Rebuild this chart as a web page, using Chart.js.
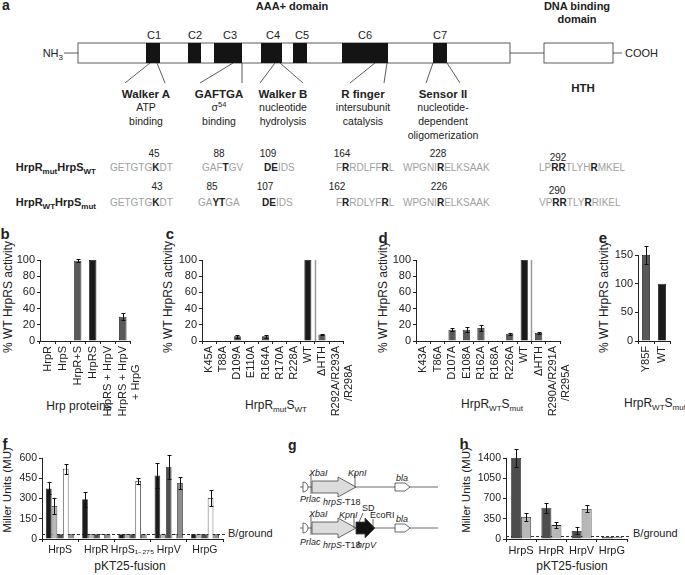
<!DOCTYPE html>
<html>
<head>
<meta charset="utf-8">
<script src="https://cdn.jsdelivr.net/npm/chart.js@4.4.0/dist/chart.umd.min.js"></script>
<style>
body { margin: 0; width: 685px; height: 575px; background: #fff; position: relative; overflow: hidden;
       font-family: "Liberation Sans", Arial, Helvetica, sans-serif; color: #222; }
.t { position: absolute; white-space: nowrap; font-size: 12px; line-height: 1; transform: translate(-50%, -50%); }
.r { transform: translate(-50%, -50%) rotate(-90deg); }
.lft { transform: translate(0, -50%); font-size: 11px; }
.L { position: absolute; font-weight: bold; font-size: 15px; line-height: 1; transform: translate(-50%, -50%); }
sub { font-size: 8px; vertical-align: -3px; line-height: 0; }
svg { position: absolute; left: 0; top: 0; }
</style>
</head>
<body>

<svg width="685" height="575" font-family="Liberation Sans, Arial, Helvetica, sans-serif">
  <!-- panel a -->
  <g fill="#222">
    <text x="2" y="10" font-size="14" font-weight="bold">a</text>
    <text x="292" y="10" font-size="11" font-weight="bold" text-anchor="middle">AAA+ domain</text>
    <text x="577" y="10" font-size="11" font-weight="bold" text-anchor="middle">DNA binding</text>
    <text x="577" y="23" font-size="11" font-weight="bold" text-anchor="middle">domain</text>
    <g font-size="11" text-anchor="middle">
      <text x="154" y="39">C1</text><text x="195" y="39">C2</text><text x="230" y="39">C3</text>
      <text x="273" y="39">C4</text><text x="302" y="39">C5</text><text x="365" y="39">C6</text>
      <text x="440" y="39">C7</text>
    </g>
    <text x="63" y="57" font-size="11" text-anchor="end">NH<tspan font-size="8" dy="3">3</tspan></text>
    <text x="625" y="57" font-size="11">COOH</text>
  </g>
  <g stroke="#333" stroke-width="0.8" fill="none">
    <line x1="64" y1="53" x2="78" y2="53"/>
    <rect x="78" y="43" width="432" height="20" fill="#fff"/>
    <line x1="510" y1="53" x2="544" y2="53"/>
    <rect x="544" y="43" width="69" height="20" fill="#fff"/>
    <line x1="613" y1="53" x2="622" y2="53"/>
    <line x1="150" y1="63" x2="125" y2="83"/><line x1="157" y1="63" x2="165" y2="83"/>
    <line x1="233" y1="63" x2="200" y2="83"/><line x1="242" y1="63" x2="242" y2="83"/>
    <line x1="275" y1="63" x2="260" y2="83"/><line x1="280" y1="63" x2="303" y2="83"/>
    <line x1="375" y1="63" x2="350" y2="83"/><line x1="387" y1="63" x2="384" y2="83"/>
    <line x1="433" y1="63" x2="426" y2="83"/><line x1="447" y1="63" x2="460" y2="83"/>
  </g>
  <g fill="#141414">
    <rect x="146" y="43" width="14" height="20"/><rect x="188" y="43" width="13" height="20"/>
    <rect x="214" y="43" width="28" height="20"/><rect x="261" y="43" width="21" height="20"/>
    <rect x="293" y="43" width="14" height="20"/><rect x="342" y="43" width="46" height="20"/>
    <rect x="433" y="43" width="14" height="20"/>
  </g>
  <g fill="#222" font-size="10.5" text-anchor="middle">
    <text x="146" y="98" font-weight="bold" font-size="11.5">Walker A</text>
    <text x="146" y="111">ATP</text><text x="146" y="125">binding</text>
    <text x="219" y="98" font-weight="bold" font-size="11.5">GAFTGA</text>
    <text x="219" y="111">σ<tspan font-size="7.5" dy="-4">54</tspan></text><text x="219" y="125">binding</text>
    <text x="283" y="98" font-weight="bold" font-size="11.5">Walker B</text>
    <text x="283" y="111">nucleotide</text><text x="283" y="125">hydrolysis</text>
    <text x="363" y="98" font-weight="bold" font-size="11.5">R finger</text>
    <text x="363" y="111">intersubunit</text><text x="363" y="125">catalysis</text>
    <text x="443" y="98" font-weight="bold" font-size="11.5">Sensor II</text>
    <text x="443" y="111">nucleotide-</text><text x="443" y="125">dependent</text><text x="443" y="139">oligomerization</text>
    <text x="583" y="92" font-weight="bold" font-size="11.5">HTH</text>
  </g>
  <!-- sequence rows -->
  <g font-size="10" fill="#222" text-anchor="middle">
    <text x="154" y="157">45</text><text x="219" y="157">88</text><text x="268" y="157">109</text>
    <text x="342" y="157">164</text><text x="438" y="157">228</text><text x="558" y="161">292</text>
    <text x="157" y="190">43</text><text x="212" y="190">85</text><text x="265" y="190">107</text>
    <text x="337" y="190">162</text><text x="439" y="190">226</text><text x="557" y="194">290</text>
  </g>
  <g font-size="11" font-weight="bold" fill="#222" text-anchor="end">
    <text x="96" y="171">HrpR<tspan font-size="8" dy="3">mut</tspan><tspan dy="-3">HrpS</tspan><tspan font-size="8" dy="3">WT</tspan></text>
    <text x="96" y="206">HrpR<tspan font-size="8" dy="3">WT</tspan><tspan dy="-3">HrpS</tspan><tspan font-size="8" dy="3">mut</tspan></text>
  </g>
  <g font-size="10" fill="#a0a0a0">
    <text x="110" y="171">GETGTG<tspan fill="#222" font-weight="bold">K</tspan>DT</text>
    <text x="202" y="171">GAF<tspan fill="#222" font-weight="bold">T</tspan>GV</text>
    <text x="264" y="171"><tspan fill="#222" font-weight="bold">DE</tspan>IDS</text>
    <text x="336" y="171">F<tspan fill="#222" font-weight="bold">R</tspan>RDLFF<tspan fill="#222" font-weight="bold">R</tspan>L</text>
    <text x="403" y="171">WPGNI<tspan fill="#222" font-weight="bold">R</tspan>ELKSAAK</text>
    <text x="539" y="171">LP<tspan fill="#222" font-weight="bold">RR</tspan>TLYH<tspan fill="#222" font-weight="bold">R</tspan>MKEL</text>
    <text x="110" y="206">GETGTG<tspan fill="#222" font-weight="bold">K</tspan>DT</text>
    <text x="198" y="206">GA<tspan fill="#222" font-weight="bold">YT</tspan>GA</text>
    <text x="262" y="206"><tspan fill="#222" font-weight="bold">DE</tspan>IDS</text>
    <text x="336" y="206">F<tspan fill="#222" font-weight="bold">R</tspan>RDLYF<tspan fill="#222" font-weight="bold">R</tspan>L</text>
    <text x="403" y="206">WPGNI<tspan fill="#222" font-weight="bold">R</tspan>ELKSAAK</text>
    <text x="539" y="206">VP<tspan fill="#222" font-weight="bold">RR</tspan>TLY<tspan fill="#222" font-weight="bold">R</tspan>RIKEL</text>
  </g>

  <!-- panel g -->
  <text x="288" y="450" font-size="14" font-weight="bold" fill="#222">g</text>
  <g stroke="#444" stroke-width="0.8">
    <line x1="300" y1="487" x2="438" y2="487"/>
    <path d="M303,482 L303,492 M303,482 A5,5 0 0,1 303,492" fill="#fff"/>
    <line x1="311" y1="474" x2="311" y2="494"/>
    <polygon points="312,481 338,481 338,477 356,487 338,497 338,493 312,493" fill="#dcdcdc"/>
    <line x1="355" y1="473" x2="355" y2="487"/>
    <polygon points="395,483 405,483 410,487 405,491 395,491" fill="#fff"/>

    <line x1="300" y1="528" x2="438" y2="528"/>
    <path d="M303,523 L303,533 M303,523 A5,5 0 0,1 303,533" fill="#fff"/>
    <line x1="311" y1="515" x2="311" y2="535"/>
    <polygon points="312,522 338,522 338,518 356,528 338,538 338,534 312,534" fill="#dcdcdc"/>
    <line x1="354" y1="515" x2="354" y2="528"/>
    <polygon points="356,522 365,522 365,518 375,528 365,538 365,534 356,534" fill="#111"/>
    <line x1="373" y1="519" x2="373" y2="528"/>
    <line x1="363" y1="513" x2="359" y2="522"/>
    <polygon points="395,524 405,524 410,528 405,532 395,532" fill="#fff"/>
  </g>
  <g font-size="9" fill="#222">
    <text x="309" y="476" font-style="italic">XbaI</text>
    <text x="348" y="476" font-style="italic">KpnI</text>
    <text x="396" y="481" font-style="italic">bla</text>
    <text x="300" y="502" font-style="italic">Prlac</text>
    <text x="323" y="505"><tspan font-style="italic">hrpS</tspan>-T18</text>
    <text x="309" y="517" font-style="italic">XbaI</text>
    <text x="339" y="518" font-style="italic">KpnI</text>
    <text x="362" y="511">SD</text>
    <text x="370" y="518">EcoRI</text>
    <text x="396" y="522" font-style="italic">bla</text>
    <text x="300" y="545" font-style="italic">Prlac</text>
    <text x="323" y="548"><tspan font-style="italic">hrpS</tspan>-T18</text>
    <text x="357" y="548" font-style="italic">hrpV</text>
  </g>
</svg>

<div class="L" style="left:5px;top:233px">b</div>
<div class="L" style="left:170px;top:233px">c</div>
<div class="L" style="left:383px;top:237px">d</div>
<div class="L" style="left:603px;top:237px">e</div>
<div class="L" style="left:5px;top:443px">f</div>
<div class="L" style="left:464px;top:443px">h</div>

<div class="t r" style="left:8px;top:297px">% WT HrpRS activity</div>
<div class="t r" style="left:168px;top:297px">% WT HrpRS activity</div>
<div class="t r" style="left:383px;top:297px">% WT HrpRS activity</div>
<div class="t r" style="left:604px;top:297px">% WT HrpRS activity</div>
<div class="t" style="left:79px;top:406px">Hrp proteins</div>
<div class="t" style="left:276px;top:405px">HrpR<sub>mut</sub>S<sub>WT</sub></div>
<div class="t" style="left:492px;top:404px">HrpR<sub>WT</sub>S<sub>mut</sub></div>
<div class="t" style="left:655px;top:403px">HrpR<sub>WT</sub>S<sub>mut</sub></div>
<div class="t r" style="left:8px;top:490px;font-size:11.5px">Miller Units (MU)</div>
<div class="t r" style="left:467px;top:490px;font-size:11.5px">Miller Units (MU)</div>
<div class="t" style="left:130px;top:566px">pKT25-fusion</div>
<div class="t" style="left:572px;top:566px">pKT25-fusion</div>
<div class="t lft" style="left:228px;top:533px">B/ground</div>
<div class="t lft" style="left:633px;top:533px">B/ground</div>

<script>
const FONT = '"Liberation Sans", Arial, Helvetica, sans-serif';
Chart.defaults.font.family = FONT;
Chart.defaults.color = '#222';

// b: Hrp proteins (trailing spaces centre the second label line)
const bLabels = ['HrpR', 'HrpS', 'HrpR+S', 'HrpRS', 'HrpRS + HrpV', ['HrpRS + HrpV', '+ HrpG      ']];
const bValues = [0, 0, 99, 100, 0, 30];
const bErrors = [0, 0, 2, 0, 0, 4];

// c: HrpR mutants with HrpS WT
const cLabels = ['K45A', 'T88A', 'D109A', 'E110A', 'R164A', 'R170A', 'R228A', 'WT', 'ΔHTH', ['R292A/R293A', '/R298A      ']];
const cValues = [0, 0, 6, 0, 6, 0, 0, 100, 8, 0];
const cErrors = [0, 0, 2, 0, 2, 0, 0, 0, 1, 0];

// d: HrpS mutants with HrpR WT
const dLabels = ['K43A', 'T86A', 'D107A', 'E108A', 'R162A', 'R168A', 'R226A', 'WT', 'ΔHTH', ['R290A/R291A', '/R295A      ']];
const dValues = [0, 0, 14, 14, 16, 0, 9, 100, 10, 0];
const dErrors = [0, 0, 2, 3, 4, 0, 1, 0, 1, 0];

// e
const eLabels = ['Y85F', 'WT'];
const eValues = [150, 100];
const eErrors = [15, 0];

// f: two-hybrid, pKT25 fusions, five partners each
const fLabels = ['HrpS', 'HrpR', 'HrpS₁₋₂₇₅', 'HrpV', 'HrpG'];
const fBlack = [375, 295, 35, 470, 35];
const fBlackErr = [45, 55, 0, 95, 0];
const fLight = [245, 35, 35, 35, 35];
const fLightErr = [60, 0, 0, 0, 0];
const fDark = [35, 35, 35, 535, 35];
const fDarkErr = [0, 0, 0, 90, 0];
const fWhite = [520, 35, 430, 35, 305];
const fWhiteErr = [35, 0, 25, 0, 60];
const fGrey = [35, 35, 35, 415, 35];
const fGreyErr = [0, 0, 0, 45, 0];
const fBackground = 35;

// h
const hLabels = ['HrpS', 'HrpR', 'HrpV', 'HrpG'];
const hDark = [1400, 540, 140, 40];
const hDarkErr = [150, 90, 60, 0];
const hLight = [380, 240, 520, 40];
const hLightErr = [70, 50, 60, 0];
const hBackground = 60;

const errorBars = {
    id: 'errorBars',
    afterDatasetsDraw(chart) {
        const ctx = chart.ctx, y = chart.scales.y;
        ctx.save();
        ctx.strokeStyle = '#111';
        ctx.lineWidth = 1;
        chart.data.datasets.forEach((ds, i) => {
            if (!ds.err) return;
            chart.getDatasetMeta(i).data.forEach((bar, j) => {
                const e = ds.err[j];
                if (!e) return;
                const v = ds.data[j];
                const x = Math.round(bar.x) + 0.5;
                const y1 = Math.round(y.getPixelForValue(v + e)) + 0.5;
                const y2 = Math.round(y.getPixelForValue(v - e)) + 0.5;
                ctx.beginPath();
                ctx.moveTo(x, y1); ctx.lineTo(x, y2);
                ctx.moveTo(x - 2, y1); ctx.lineTo(x + 2, y1);
                ctx.moveTo(x - 2, y2); ctx.lineTo(x + 2, y2);
                ctx.stroke();
            });
        });
        ctx.restore();
    }
};

// grey divider between WT and the HTH constructs
const sep = {
    id: 'sep',
    afterDatasetsDraw(chart, args, opts) {
        if (opts.index == null) return;
        const x = chart.scales.x, y = chart.scales.y, ctx = chart.ctx;
        const px = Math.round((x.getPixelForValue(opts.index) + x.getPixelForValue(opts.index + 1)) / 2) + 0.5;
        ctx.save();
        ctx.strokeStyle = '#9a9a9a';
        ctx.lineWidth = 1.5;
        ctx.beginPath();
        ctx.moveTo(px, y.getPixelForValue(0));
        ctx.lineTo(px, y.getPixelForValue(opts.top));
        ctx.stroke();
        ctx.restore();
    }
};

// dashed background level
const bg = {
    id: 'bg',
    beforeDatasetsDraw(chart, args, opts) {
        if (opts.value == null) return;
        const a = chart.chartArea, ctx = chart.ctx;
        const py = Math.round(chart.scales.y.getPixelForValue(opts.value)) + 0.5;
        ctx.save();
        ctx.strokeStyle = '#333';
        ctx.lineWidth = 1;
        ctx.setLineDash([3, 2]);
        ctx.beginPath();
        ctx.moveTo(a.left, py);
        ctx.lineTo(a.right + opts.extend, py);
        ctx.stroke();
        ctx.restore();
    }
};

function makeBar(plot, labels, datasets, o) {
    const yw = 32, pt = 14, pr = 10, xh = o.xh;
    const w = plot[2] - plot[0] + yw + pr, h = plot[3] - plot[1] + pt + xh;
    const cv = document.createElement('canvas');
    cv.width = w; cv.height = h;
    cv.style.cssText = 'position:absolute;left:' + (plot[0] - yw) + 'px;top:' + (plot[1] - pt) + 'px;width:' + w + 'px;height:' + h + 'px';
    document.body.appendChild(cv);
    return new Chart(cv.getContext('2d'), {
        type: 'bar',
        data: { labels: labels, datasets: datasets },
        options: {
            responsive: false,
            animation: false,
            layout: { padding: { top: pt, right: pr, left: 0, bottom: 0 } },
            plugins: {
                legend: { display: false },
                tooltip: { enabled: false },
                sep: o.sep || {},
                bg: o.bg || {}
            },
            scales: {
                x: {
                    grid: { display: true, drawOnChartArea: false, tickLength: 3, color: '#222' },
                    border: { color: '#222' },
                    ticks: { font: { size: o.xfs || 11 }, color: '#222', autoSkip: false, maxRotation: o.rot, minRotation: o.rot, padding: 2 },
                    afterFit: s => { s.height = xh; }
                },
                y: {
                    min: 0, max: o.max,
                    grid: { drawOnChartArea: false, tickLength: 3, color: '#222' },
                    border: { color: '#222' },
                    ticks: { stepSize: o.step, font: { size: o.yfs || 11 }, color: '#222', padding: 2, callback: v => String(v) },
                    afterFit: s => { s.width = yw; }
                }
            }
        },
        plugins: [errorBars, sep, bg]
    });
}

function single(values, errors, labels) {
    return [{
        data: values,
        err: errors,
        backgroundColor: labels.map(l => (l === 'WT' || l === 'HrpRS') ? '#1b1b1b' : '#595959'),
        borderColor: '#1a1a1a',
        borderWidth: c => c.raw ? 0.8 : 0,
        categoryPercentage: 1,
        barPercentage: 0.5
    }];
}

function group(series, errors, fills, pct) {
    return series.map((s, i) => ({
        data: s,
        err: errors[i],
        backgroundColor: fills[i],
        borderColor: '#222',
        borderWidth: 0.8,
        categoryPercentage: pct,
        barPercentage: 1
    }));
}

makeBar([40, 260, 142, 341], bLabels, single(bValues, bErrors, bLabels), { xh: 80, rot: 90, max: 100, step: 20 });
makeBar([202, 260, 355, 341], cLabels, single(cValues, cErrors, cLabels), { xh: 80, rot: 90, max: 100, step: 20, sep: { index: 7, top: 100 } });
makeBar([416, 260, 572, 341], dLabels, single(dValues, dErrors, dLabels), { xh: 80, rot: 90, max: 100, step: 20, sep: { index: 7, top: 100 } });
makeBar([638, 255, 670, 341], eLabels, single(eValues, eErrors, eLabels), { xh: 80, rot: 90, max: 150, step: 50 });

makeBar([42, 458, 223, 539], fLabels,
    group([fBlack, fLight, fDark, fWhite, fGrey], [fBlackErr, fLightErr, fDarkErr, fWhiteErr, fGreyErr],
          ['#1c1c1c', '#b8b8b8', '#4d4d4d', '#ffffff', '#8e8e8e'], 0.78),
    { xh: 22, rot: 0, max: 600, step: 150, yfs: 10.5, xfs: 10.5, bg: { value: fBackground, extend: 3 } });

makeBar([506, 458, 627, 539], hLabels,
    group([hDark, hLight], [hDarkErr, hLightErr], ['#4d4d4d', '#b8b8b8'], 0.66),
    { xh: 22, rot: 0, max: 1400, step: 350, yfs: 10.5, xfs: 11, bg: { value: hBackground, extend: 4 } });
</script>
</body>
</html>
